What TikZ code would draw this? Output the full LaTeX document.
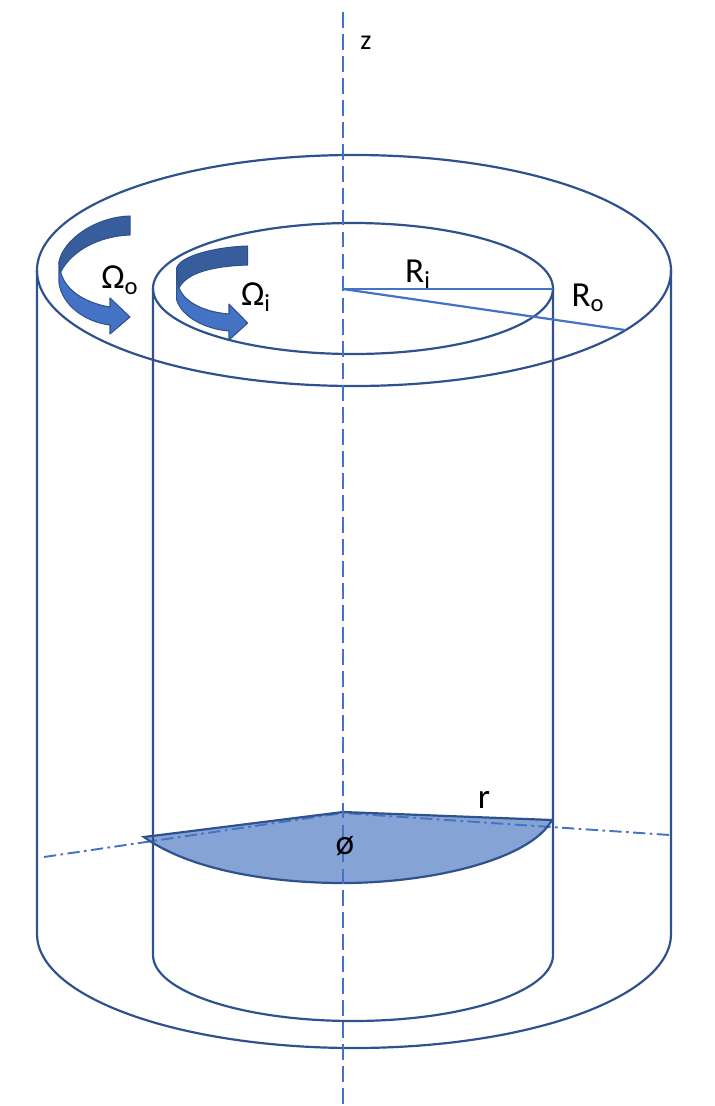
\documentclass[tikz,border=0pt]{standalone}
\usepackage{fontspec}
\setmainfont{Carlito}
\definecolor{wall}{HTML}{2F528F}
\definecolor{axis}{HTML}{4472C4}
\definecolor{sector}{HTML}{86A3D6}
\definecolor{arrowdark}{HTML}{385D9C}
\tikzset{
    wallline/.style={draw=wall,line width=1.25pt},
    axisline/.style={draw=axis,line width=1.25pt},
    dashdotline/.style={draw=axis,line width=1.1pt,dash pattern=on 7pt off 2.5pt on 1.5pt off 2.5pt},
    spinarrow/.style={draw=wall,line width=0.6pt,line join=round},
    lbl/.style={font=\fontsize{20}{22}\selectfont,inner sep=0pt}
}
\begin{document}
\begin{tikzpicture}[x=0.02cm,y=-0.02cm]
    \useasboundingbox (0,0) rectangle (714,1106);

    % Sector
    \fill[sector] (144,837) -- (343,812) -- (552,820) .. controls (530,860) and (430,883) .. (343,883) .. controls (270,883) and (190,870) .. (144,837) -- cycle;
    \draw[dashdotline] (44,857) -- (343,813) -- (670,835);
    \draw[wallline] (144,837) -- (343,812) -- (552,820) .. controls (530,860) and (430,883) .. (343,883) .. controls (270,883) and (190,870) .. (144,837) -- cycle;

    % Outer cylinder
    \draw[wallline] (354,270.5) ellipse [x radius=317,y radius=115.5];
    \draw[wallline] (37,270) -- (37,934) arc [start angle=180,end angle=0,x radius=317,y radius=114] -- (671,270);

    % Inner cylinder
    \draw[wallline] (353,288.5) ellipse [x radius=200,y radius=65.5];
    \draw[wallline] (153,288) -- (153,955) arc [start angle=180,end angle=0,x radius=200,y radius=66] -- (553,288);

    % Axis
    \draw[axisline,dash pattern=on 9pt off 3.5pt] (343,12) -- (343,1105);

    % Radii
    \draw[axisline] (343,289) -- (553,289);
    \draw[axisline] (343,289) -- (625,330);

    % Spin, outer
    \draw[spinarrow,fill=axis] (59,262) -- (59,283) .. controls (62,305) and (85,322) .. (110,325) -- (110,334) -- (130,317) -- (110,298) -- (110,307) .. controls (85,303) and (65,290) .. (60.7,272) -- cycle;
    \draw[spinarrow,fill=arrowdark] (130,216) -- (130,235) .. controls (100,236) and (72,250) .. (60.7,272) -- (59,262) .. controls (63,240) and (95,217) .. (130,216) -- cycle;

    % Spin, inner
    \draw[spinarrow,fill=axis] (176.7,268) -- (176.7,300) .. controls (182,317) and (205,329) .. (229,331) -- (229,340) -- (247.7,323) -- (229,304) -- (229,314) .. controls (205,312) and (185,303) .. (179,288) -- cycle;
    \draw[spinarrow,fill=arrowdark] (247.7,246) -- (247.7,265) .. controls (215,266) and (187,272) .. (179,288) -- (176.7,268) .. controls (180,256) and (215,247) .. (247.7,246) -- cycle;

    % Labels
    \node[lbl,font=\fontsize{16}{18}\selectfont] (zlabel) at (366,43) {z};
    \node[lbl] (omegao) at (120,280) {Ω\textsubscript{o}};
    \node[lbl] (omegai) at (256,297) {Ω\textsubscript{i}};
    \node[lbl] (ri) at (418,274) {R\textsubscript{i}};
    \node[lbl] (ro) at (588,298) {R\textsubscript{o}};
    \node[lbl] (rlabel) at (484,800) {r};
    \node[lbl] (philabel) at (345,846) {ø};
\end{tikzpicture}
\end{document}
